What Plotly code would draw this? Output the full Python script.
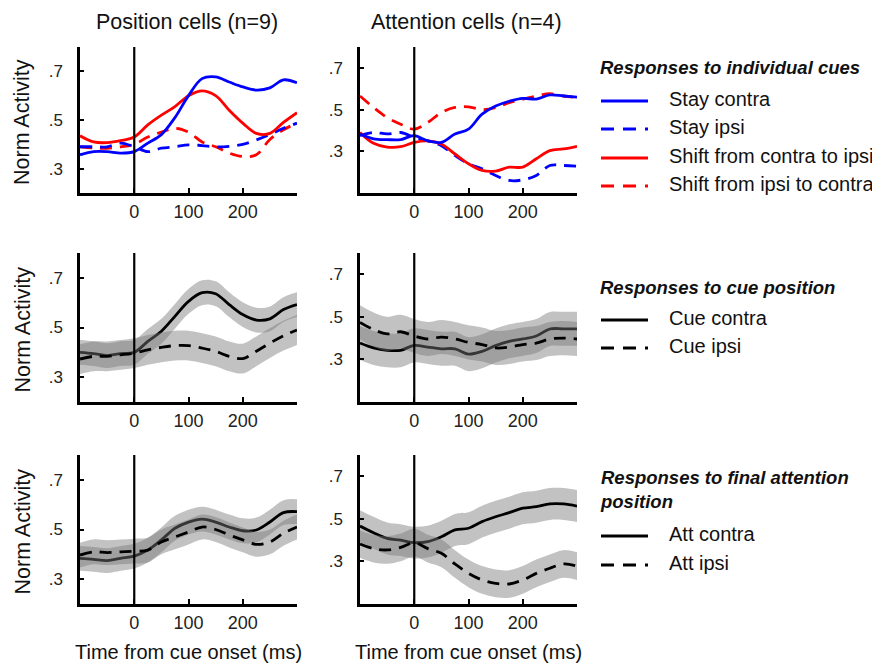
import plotly.graph_objects as go
from plotly.subplots import make_subplots

# time from cue onset (ms)
t = [-100, -75, -50, -25, 0, 25, 50, 75, 100, 125, 150, 175, 200, 225, 250, 275, 300]

# responses to individual cues - position cells
stay_contra_pos = [0.357, 0.37, 0.37, 0.364, 0.37, 0.405, 0.44, 0.51, 0.60, 0.67, 0.677, 0.656, 0.636, 0.623, 0.632, 0.665, 0.653]
stay_ipsi_pos = [0.39, 0.39, 0.39, 0.405, 0.39, 0.37, 0.384, 0.39, 0.398, 0.395, 0.39, 0.392, 0.40, 0.418, 0.44, 0.466, 0.487]
shift_ci_pos = [0.435, 0.41, 0.407, 0.415, 0.43, 0.48, 0.52, 0.555, 0.60, 0.62, 0.60, 0.54, 0.487, 0.445, 0.445, 0.49, 0.53]
shift_ic_pos = [0.39, 0.385, 0.384, 0.39, 0.40, 0.43, 0.45, 0.466, 0.45, 0.41, 0.39, 0.364, 0.35, 0.357, 0.42, 0.46, 0.487]

# responses to individual cues - attention cells
stay_contra_att = [0.383, 0.36, 0.356, 0.356, 0.375, 0.35, 0.343, 0.383, 0.406, 0.478, 0.517, 0.54, 0.554, 0.55, 0.57, 0.565, 0.56]
stay_ipsi_att = [0.375, 0.39, 0.383, 0.39, 0.367, 0.35, 0.327, 0.28, 0.24, 0.216, 0.184, 0.16, 0.163, 0.184, 0.232, 0.232, 0.229]
shift_ci_att = [0.39, 0.338, 0.32, 0.322, 0.343, 0.35, 0.335, 0.287, 0.24, 0.208, 0.205, 0.224, 0.224, 0.264, 0.303, 0.311, 0.324]
shift_ic_att = [0.565, 0.51, 0.462, 0.43, 0.406, 0.438, 0.486, 0.51, 0.513, 0.50, 0.51, 0.533, 0.55, 0.565, 0.576, 0.565, 0.557]

# responses to cue position (mean, sem)
cue_contra_pos = [0.40, 0.395, 0.387, 0.395, 0.40, 0.444, 0.485, 0.545, 0.605, 0.64, 0.636, 0.592, 0.552, 0.53, 0.535, 0.572, 0.592]
cue_ipsi_pos = [0.373, 0.384, 0.384, 0.39, 0.397, 0.41, 0.42, 0.427, 0.427, 0.417, 0.404, 0.384, 0.375, 0.404, 0.437, 0.467, 0.49]
cue_contra_att = [0.377, 0.354, 0.343, 0.343, 0.366, 0.358, 0.35, 0.35, 0.325, 0.338, 0.365, 0.385, 0.396, 0.41, 0.443, 0.444, 0.444]
cue_ipsi_att = [0.474, 0.44, 0.42, 0.43, 0.41, 0.396, 0.405, 0.396, 0.38, 0.37, 0.354, 0.358, 0.37, 0.377, 0.396, 0.40, 0.396]
cue_sem_pos = [0.05, 0.06]
cue_sem_att = [0.08, 0.08]

# responses to final attention position (mean, sem)
att_contra_pos = [0.384, 0.38, 0.375, 0.384, 0.393, 0.417, 0.458, 0.505, 0.53, 0.542, 0.53, 0.51, 0.495, 0.498, 0.53, 0.568, 0.572]
att_ipsi_pos = [0.397, 0.41, 0.407, 0.41, 0.413, 0.417, 0.45, 0.47, 0.49, 0.51, 0.50, 0.478, 0.458, 0.44, 0.45, 0.485, 0.51]
att_contra_att = [0.466, 0.435, 0.408, 0.40, 0.388, 0.393, 0.416, 0.448, 0.456, 0.487, 0.51, 0.529, 0.55, 0.557, 0.57, 0.57, 0.56]
att_ipsi_att = [0.382, 0.36, 0.354, 0.366, 0.388, 0.36, 0.338, 0.288, 0.244, 0.213, 0.197, 0.194, 0.213, 0.244, 0.268, 0.288, 0.278]
att_sem_pos = [0.05, 0.05]
att_sem_att = [0.075, 0.065]

col_titles = ['Position cells (n=9)', 'Attention cells (n=4)']
legend_groups = [
    ('<b><i>Responses to individual cues</i></b>',
     [('Stay contra', 'blue', 'solid'), ('Stay ipsi', 'blue', 'dash'),
      ('Shift from contra to ipsi', 'red', 'solid'), ('Shift from ipsi to contra', 'red', 'dash')]),
    ('<b><i>Responses to cue position</i></b>',
     [('Cue contra', 'black', 'solid'), ('Cue ipsi', 'black', 'dash')]),
    ('<b><i>Responses to final attention<br>position</i></b>',
     [('Att contra', 'black', 'solid'), ('Att ipsi', 'black', 'dash')]),
]

FONT = 'Liberation Sans, Arial, Helvetica, sans-serif'
OFF = 8  # page body margin around the plot div
W, H = 880 - OFF, 667 - OFF
DASH = '12px,8px'
BAND = 'rgba(120,120,120,0.45)'

fig = make_subplots(rows=3, cols=2)


def px(x):
    return (x - OFF) / W


def py(y):
    return 1 - (y - OFF) / H


def add_line(y, color, dash, row, col):
    fig.add_trace(go.Scatter(x=t, y=y, mode='lines', line_shape='spline',
                             line=dict(color=color, width=2.8, dash=DASH if dash == 'dash' else 'solid'),
                             showlegend=False, hoverinfo='skip'), row=row, col=col)


def add_band(y, sem, row, col):
    upper = [v + sem for v in y]
    lower = [v - sem for v in y]
    fig.add_trace(go.Scatter(x=t, y=upper, mode='lines', line=dict(width=0), line_shape='spline',
                             showlegend=False, hoverinfo='skip'), row=row, col=col)
    fig.add_trace(go.Scatter(x=t, y=lower, mode='lines', line=dict(width=0), line_shape='spline',
                             fill='tonexty', fillcolor=BAND, showlegend=False, hoverinfo='skip'),
                  row=row, col=col)


# row 1: individual cues
for col, (sc, si, sci, sic) in enumerate([(stay_contra_pos, stay_ipsi_pos, shift_ci_pos, shift_ic_pos),
                                          (stay_contra_att, stay_ipsi_att, shift_ci_att, shift_ic_att)], start=1):
    add_line(sic, 'red', 'dash', 1, col)
    add_line(si, 'blue', 'dash', 1, col)
    add_line(sci, 'red', 'solid', 1, col)
    add_line(sc, 'blue', 'solid', 1, col)

# rows 2-3: contra / ipsi with sem bands
for row, data in [(2, [(cue_contra_pos, cue_ipsi_pos, cue_sem_pos), (cue_contra_att, cue_ipsi_att, cue_sem_att)]),
                  (3, [(att_contra_pos, att_ipsi_pos, att_sem_pos), (att_contra_att, att_ipsi_att, att_sem_att)])]:
    for col, (contra, ipsi, sem) in enumerate(data, start=1):
        add_band(contra, sem[0], row, col)
        add_line(contra, 'black', 'solid', row, col)
        add_band(ipsi, sem[1], row, col)
        add_line(ipsi, 'black', 'dash', row, col)

# axes (pixel positions in the page)
x_dom = [(80, 297), (360, 577)]
y_dom = [(47, 193), (253, 402), (455, 604)]
y_rng = [[0.2, 0.8], [0.1, 0.8]]
for r in range(3):
    for c in range(2):
        fig.update_xaxes(range=[-100, 300], domain=[px(x_dom[c][0]), px(x_dom[c][1])],
                         showline=True, linecolor='black', linewidth=2.5, showgrid=False, zeroline=False,
                         ticks='inside', ticklen=5, tickwidth=2, tickcolor='black',
                         tickvals=[-100, 0, 100, 200, 300], ticktext=['', '0', '100', '200', ''],
                         tickfont=dict(size=18, color='#222'), ticklabelstandoff=1,
                         automargin=False, row=r + 1, col=c + 1)
        fig.update_yaxes(range=y_rng[c], domain=[py(y_dom[r][1]), py(y_dom[r][0])],
                         showline=True, linecolor='black', linewidth=2.5, showgrid=False, zeroline=False,
                         ticks='inside', ticklen=4, tickwidth=2, tickcolor='black',
                         tickvals=[0.3, 0.5, 0.7], ticktext=['.3', '.5', '.7'],
                         tickfont=dict(size=17, color='#222'), ticklabelstandoff=11,
                         automargin=False, row=r + 1, col=c + 1)
        fig.add_vline(x=0, line=dict(color='black', width=2.2), row=r + 1, col=c + 1)

ann = []
for c in range(2):
    ann.append(dict(x=px((x_dom[c][0] + x_dom[c][1]) / 2 - 2), y=py(22), text=col_titles[c],
                    font=dict(size=21.5)))
    ann.append(dict(x=px((x_dom[c][0] + x_dom[c][1]) / 2), y=py(652), text='Time from cue onset (ms)',
                    font=dict(size=20)))
for r in range(3):
    ann.append(dict(x=px(22), y=py((y_dom[r][0] + y_dom[r][1]) / 2 + 2), text='Norm Activity',
                    textangle=-90, font=dict(size=21.5)))

# legend text blocks
title_y = [67, 287, 489]
item_y = [[99, 127, 156, 184], [318, 346], [534, 563]]
for (title, items), ty, iys in zip(legend_groups, title_y, item_y):
    ann.append(dict(x=px(598), y=py(ty), text=title, xanchor='left', align='left', font=dict(size=18.5)))
    for (label, color, dash), iy in zip(items, iys):
        ann.append(dict(x=px(667), y=py(iy), text=label, xanchor='left', font=dict(size=20)))
        fig.add_shape(type='line', xref='paper', yref='paper', x0=px(601), x1=px(648),
                      y0=py(iy + 2), y1=py(iy + 2),
                      line=dict(color=color, width=3, dash='13px,9px' if dash == 'dash' else 'solid'))

for a in ann:
    a.setdefault('xanchor', 'center')
    a.update(xref='paper', yref='paper', showarrow=False, yanchor='middle')
    a['font'] = dict(family=FONT, color='#111', size=a['font']['size'])

fig.update_layout(width=W, height=H, margin=dict(l=0, r=0, t=0, b=0),
                  plot_bgcolor='white', paper_bgcolor='white',
                  font=dict(family=FONT, color='#222'), showlegend=False,
                  annotations=ann)

fig.write_html("out.html")
